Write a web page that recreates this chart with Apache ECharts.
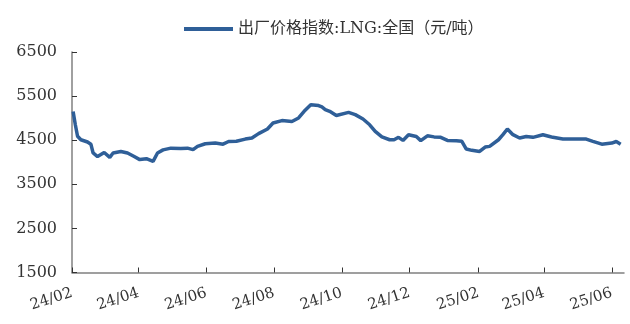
<!DOCTYPE html>
<html>
<head>
<meta charset="utf-8">
<script src="https://cdn.jsdelivr.net/npm/echarts@6/dist/echarts.min.js"></script>
<style>
html,body{margin:0;padding:0;background:#fff;}
#chart{width:630px;height:324px;}
</style>
</head>
<body>
<div id="chart"></div>
<script>
const seriesName = '出厂价格指数:LNG:全国（元/吨）';
const dates = [
 '2024-02-02','2024-02-04','2024-02-06','2024-02-09','2024-02-15','2024-02-18','2024-02-20','2024-02-24',
 '2024-03-01','2024-03-06','2024-03-09','2024-03-16','2024-03-22','2024-03-28',
 '2024-04-02','2024-04-08','2024-04-14','2024-04-18','2024-04-23','2024-04-30',
 '2024-05-09','2024-05-15','2024-05-20','2024-05-24','2024-05-31',
 '2024-06-09','2024-06-16','2024-06-21','2024-06-28',
 '2024-07-06','2024-07-12','2024-07-18','2024-07-26','2024-07-31',
 '2024-08-08','2024-08-17','2024-08-23','2024-08-28',
 '2024-09-03','2024-09-10','2024-09-13','2024-09-16','2024-09-20','2024-09-26',
 '2024-10-07','2024-10-13','2024-10-20','2024-10-26','2024-10-31',
 '2024-11-06','2024-11-13','2024-11-17','2024-11-21','2024-11-25','2024-11-30',
 '2024-12-07','2024-12-11','2024-12-17','2024-12-23','2024-12-29',
 '2025-01-04','2025-01-12','2025-01-17','2025-01-21','2025-01-26',
 '2025-02-02','2025-02-07','2025-02-11','2025-02-19','2025-02-23','2025-02-27',
 '2025-03-04','2025-03-10','2025-03-16','2025-03-22','2025-03-31',
 '2025-04-06','2025-04-09','2025-04-18',
 '2025-05-01','2025-05-09','2025-05-15','2025-05-23',
 '2025-06-01','2025-06-05','2025-06-09'
];
const values = [
 5150,4850,4590,4510,4460,4410,4210,4130,
 4220,4110,4210,4245,4210,4130,
 4060,4080,4020,4210,4280,4320,
 4310,4320,4285,4360,4420,
 4435,4410,4470,4475,
 4525,4550,4650,4755,4890,
 4945,4925,5005,5155,
 5305,5285,5255,5195,5155,5060,
 5130,5080,4980,4850,4700,
 4575,4510,4510,4565,4495,4625,
 4585,4490,4600,4575,4565,
 4495,4490,4475,4300,4270,
 4245,4345,4360,4510,4625,4755,
 4625,4550,4585,4565,4625,
 4585,4565,4527,
 4527,4525,4475,4410,
 4435,4470,4410
];
const tickDates = ['2024-02-01','2024-04-01','2024-06-01','2024-08-01','2024-10-01','2024-12-01','2025-02-01','2025-04-01','2025-06-01'];
const tickLabels = ['24/02','24/04','24/06','24/08','24/10','24/12','25/02','25/04','25/06'];
const yTicks = [1500,2500,3500,4500,5500,6500];
const axisStart = '2024-02-01', axisEnd = '2025-06-12';

function ts(s){const p=s.split('-');return Date.UTC(+p[0],+p[1]-1,+p[2]);}
const t0 = ts(axisStart);
function dayIdx(s){return Math.round((ts(s)-t0)/86400000);}
const tickIdx = tickDates.map(dayIdx);
const labelMap = {};
tickIdx.forEach((t,i)=>{labelMap[t]=tickLabels[i];});
const data = dates.map((d,i)=>[dayIdx(d),values[i]]);

const chart = echarts.init(document.getElementById('chart'));
const axisColor = '#808080';
const lineColor = '#2F5F98';
const serif = '"DejaVu Serif","Noto Sans CJK SC"';
chart.setOption({
  animation:false,
  grid:{left:72,right:6,top:52,bottom:51.5,containLabel:false},
  legend:{
    data:[{name:seriesName,icon:'rect',itemStyle:{color:lineColor}}],
    top:16,left:179,
    itemWidth:49,itemHeight:4,itemGap:4,
    textStyle:{fontFamily:serif,fontSize:16,color:'#333'}
  },
  xAxis:{
    type:'value',
    min:0,max:dayIdx(axisEnd),
    axisLine:{lineStyle:{color:axisColor,width:1.5}},
    axisTick:{show:true,inside:true,length:5,customValues:tickIdx,lineStyle:{color:'#333'}},
    axisLabel:{customValues:tickIdx,rotate:18,margin:20,fontFamily:serif,fontSize:15,color:'#333',
      formatter:function(v){return labelMap[v]||'';}},
    splitLine:{show:false}
  },
  yAxis:{
    type:'value',min:yTicks[0],max:yTicks[yTicks.length-1],interval:1000,
    axisLine:{show:true,lineStyle:{color:axisColor,width:1.5}},
    axisTick:{show:true,inside:true,length:5,lineStyle:{color:'#333'}},
    axisLabel:{margin:15,fontFamily:serif,fontSize:16,color:'#333',
      formatter:function(v){return String(v);}},
    splitLine:{show:false}
  },
  series:[{
    name:seriesName,type:'line',data:data,showSymbol:false,symbol:'none',
    lineStyle:{color:lineColor,width:3.5},itemStyle:{color:lineColor}
  }]
});
</script>
</body>
</html>
